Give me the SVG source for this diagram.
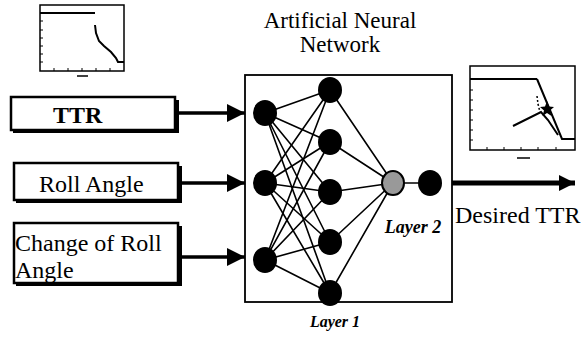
<svg xmlns="http://www.w3.org/2000/svg" width="582" height="341" viewBox="0 0 582 341">
  <style>
    .box { fill: #fff; stroke: #000; stroke-width: 2.5; }
    .shadow { fill: #000; }
    text { font-family: 'Liberation Serif', 'DejaVu Serif', 'Noto Serif', serif; fill: #000; }
    .lbl { font-size: 24px; }
    .ital { font-style: italic; font-weight: bold; }
    .edge { stroke: #000; stroke-width: 1.6; fill: none; }
    .node { fill: #000; }
    .arrow { stroke: #000; stroke-width: 3.5; fill: none; }
    .axis { stroke: #000; stroke-width: 1.5; fill: none; }
    .curve { stroke: #000; stroke-width: 2; fill: none; }
  </style>
  <defs>
    <marker id="head" viewBox="0 0 10 10" refX="10" refY="5" markerWidth="26" markerHeight="18" markerUnits="userSpaceOnUse" orient="auto">
      <path d="M0,0 L10,5 L0,10 z" fill="#000"/>
    </marker>
    <marker id="headBig" viewBox="0 0 10 10" refX="10" refY="5" markerWidth="24" markerHeight="16" markerUnits="userSpaceOnUse" orient="auto">
      <path d="M0,0 L10,5 L0,10 z" fill="#000"/>
    </marker>
  </defs>

  <!-- small plot: TTR profile (top left) -->
  <g id="plot-input">
    <rect x="40" y="5" width="84" height="66" class="axis"/>
    <line x1="40" y1="13" x2="95" y2="13" class="curve" stroke-width="2.5"/>
    <path d="M95,25 L96,33 L99,41 L104,46 L111,52 L116,58 L118,62 L124,62" class="curve"/>
    <g stroke="#000" stroke-width="1">
      <line x1="54" y1="71" x2="54" y2="68"/><line x1="68" y1="71" x2="68" y2="68"/>
      <line x1="82" y1="71" x2="82" y2="68"/><line x1="96" y1="71" x2="96" y2="68"/>
      <line x1="110" y1="71" x2="110" y2="68"/>
      <line x1="40" y1="21" x2="43" y2="21"/><line x1="40" y1="30" x2="43" y2="30"/>
      <line x1="40" y1="38" x2="43" y2="38"/><line x1="40" y1="46" x2="43" y2="46"/>
      <line x1="40" y1="54" x2="43" y2="54"/><line x1="40" y1="62" x2="43" y2="62"/>
    </g>
    <line x1="77" y1="76" x2="88" y2="76" stroke="#000" stroke-width="1.5"/>
  </g>

  <!-- small plot: desired TTR (top right) -->
  <g id="plot-output">
    <rect x="470" y="66" width="105" height="84" class="axis"/>
    <line x1="470" y1="79" x2="537" y2="79" class="curve" stroke-width="2.5"/>
    <path d="M537,79 L562,139 L575,139" class="curve"/>
    <path d="M513,126 L541,112 L548,120 L558,135" class="curve"/>
    <path d="M537,96 L538,104 L540,112" stroke="#000" stroke-width="1.5" fill="none" stroke-dasharray="2,2"/>
    <path d="M547,101 L549,106.5 L554,107 L550,110.5 L551.5,116 L547,113 L542.5,116 L544,110.5 L540,107 L545,106.5 z" fill="#000"/>
    <g stroke="#000" stroke-width="1">
      <line x1="487" y1="150" x2="487" y2="147"/><line x1="504" y1="150" x2="504" y2="147"/>
      <line x1="521" y1="150" x2="521" y2="147"/><line x1="538" y1="150" x2="538" y2="147"/>
      <line x1="556" y1="150" x2="556" y2="147"/>
      <line x1="470" y1="90" x2="473" y2="90"/><line x1="470" y1="100" x2="473" y2="100"/>
      <line x1="470" y1="110" x2="473" y2="110"/><line x1="470" y1="120" x2="473" y2="120"/>
      <line x1="470" y1="130" x2="473" y2="130"/><line x1="470" y1="140" x2="473" y2="140"/>
    </g>
    <line x1="517" y1="158" x2="530" y2="158" stroke="#000" stroke-width="1.5"/>
  </g>

  <!-- input boxes -->
  <g id="in-ttr">
    <rect x="13" y="100" width="166" height="33" class="shadow"/>
    <rect x="11" y="97" width="164" height="33" class="box"/>
    <text x="53" y="123" class="lbl" font-weight="bold" font-family="Liberation Serif, serif">TTR</text>
  </g>
  <g id="in-roll">
    <rect x="16" y="166" width="166" height="37" class="shadow"/>
    <rect x="14" y="163" width="164" height="37" class="box"/>
    <text x="39" y="192" class="lbl" font-family="Liberation Serif, serif">Roll Angle</text>
  </g>
  <g id="in-droll">
    <rect x="16" y="226" width="166" height="60" class="shadow"/>
    <rect x="14" y="223" width="164" height="60" class="box"/>
    <text x="15" y="251" class="lbl" font-family="Liberation Serif, serif">Change of Roll</text>
    <text x="15" y="278" class="lbl" font-family="Liberation Serif, serif">Angle</text>
  </g>

  <!-- network panel -->
  <g id="ann">
    <text x="340" y="28" font-size="23" text-anchor="middle" font-family="Liberation Serif, serif">Artificial Neural</text>
    <text x="340" y="52" font-size="23" text-anchor="middle" font-family="Liberation Serif, serif">Network</text>
    <rect x="245" y="75" width="207" height="227" fill="#fff" stroke="#000" stroke-width="1.8"/>
    <text x="335" y="327" class="ital" font-size="16" text-anchor="middle" font-family="Liberation Serif, serif">Layer 1</text>
    <text x="413" y="233" class="ital" font-size="18" text-anchor="middle" font-family="Liberation Serif, serif">Layer 2</text>
  </g>

  <!-- weighted links -->
  <g id="connectors">
    <g class="edge">
      <path d="M265,113 L330,90 M265,113 L330,142 M265,113 L330,192 M265,113 L330,242 M265,113 L330,293"/>
      <path d="M265,183 L330,90 M265,183 L330,142 M265,183 L330,192 M265,183 L330,242 M265,183 L330,293"/>
      <path d="M265,260 L330,90 M265,260 L330,142 M265,260 L330,192 M265,260 L330,242 M265,260 L330,293"/>
      <path d="M330,90 L393,183 M330,142 L393,183 M330,192 L393,183 M330,242 L393,183 M330,293 L393,183"/>
      <path d="M393,183 L430,183"/>
    </g>
    <line x1="179" y1="113" x2="245" y2="113" class="arrow" marker-end="url(#head)"/>
    <line x1="182" y1="183" x2="245" y2="183" class="arrow" marker-end="url(#head)"/>
    <line x1="182" y1="257" x2="245" y2="257" class="arrow" marker-end="url(#head)"/>
    <line x1="452" y1="183" x2="575" y2="183" stroke="#000" stroke-width="5" marker-end="url(#headBig)"/>
  </g>

  <!-- neurons -->
  <g id="n-in1"><ellipse cx="265" cy="113" rx="12" ry="13" class="node"/></g>
  <g id="n-in2"><ellipse cx="265" cy="183" rx="12" ry="13" class="node"/></g>
  <g id="n-in3"><ellipse cx="265" cy="260" rx="12" ry="13" class="node"/></g>
  <g id="n-h1"><ellipse cx="330" cy="90" rx="12" ry="13" class="node"/></g>
  <g id="n-h2"><ellipse cx="330" cy="142" rx="12" ry="13" class="node"/></g>
  <g id="n-h3"><ellipse cx="330" cy="192" rx="12" ry="13" class="node"/></g>
  <g id="n-h4"><ellipse cx="330" cy="242" rx="12" ry="13" class="node"/></g>
  <g id="n-h5"><ellipse cx="330" cy="293" rx="12" ry="13" class="node"/></g>
  <g id="n-sum"><ellipse cx="393" cy="183" rx="11" ry="12" fill="#999" stroke="#000" stroke-width="2"/></g>
  <g id="n-out"><ellipse cx="430" cy="183" rx="12" ry="13" class="node"/></g>

  <g id="out-label">
    <text x="455" y="223" class="lbl" font-family="Liberation Serif, serif">Desired TTR</text>
  </g>
</svg>
